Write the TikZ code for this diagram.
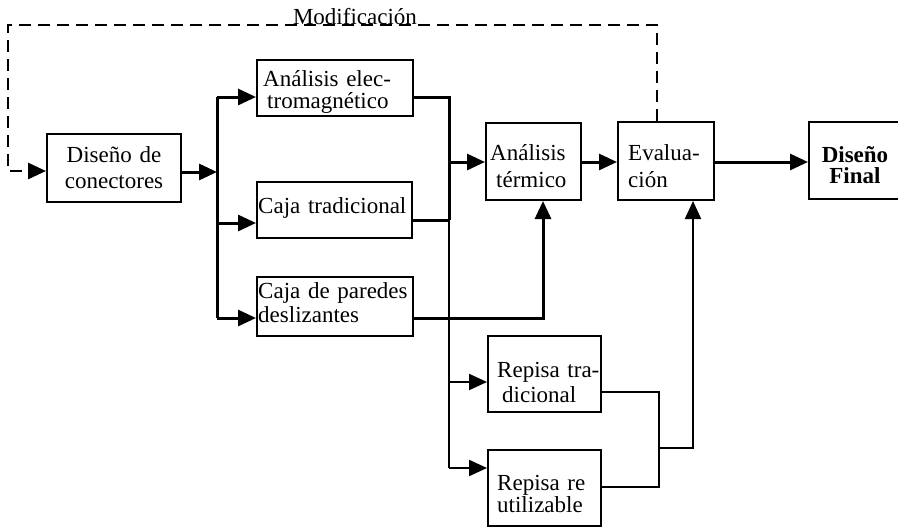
\documentclass[tikz,border=0pt]{standalone}
\usepackage{fontspec}
\setmainfont{Liberation Serif}
\usetikzlibrary{arrows.meta}

\tikzset{
  box/.style={draw, line width=2pt, inner sep=0pt, anchor=center},
  txt/.style={inner sep=0pt, anchor=base west, text width=160pt, align=left},
  ctxt/.style={inner sep=0pt, anchor=base, text width=120pt, align=center},
  conn/.style={line width=3pt, -{Triangle[length=18pt,width=16pt]}},
  wire/.style={line width=3pt},
  thinconn/.style={line width=2.2pt, -{Triangle[length=18pt,width=16pt]}},
  thinwire/.style={line width=2.2pt},
  feedback/.style={line width=2.8pt, dash pattern=on 12pt off 7pt,
                   -{Triangle[length=18pt,width=16pt]}},
}
\newcommand{\fs}[1]{\fontsize{23}{#1}\selectfont}

\begin{document}
\begin{tikzpicture}[x=1pt,y=-1pt]
\useasboundingbox (0,0) rectangle (898,528);
\clip (0,0) rectangle (898,528);

% process blocks (frames)
\node[box, minimum width=134pt, minimum height=68pt] (dis)  at (114,168) {};
\node[box, minimum width=156pt, minimum height=56pt] (ael)  at (335,88) {};
\node[box, minimum width=155pt, minimum height=56pt] (ctr)  at (334.5,210) {};
\node[box, minimum width=156pt, minimum height=59pt] (cpd)  at (335,306.5) {};
\node[box, minimum width=95pt,  minimum height=77pt] (ater) at (533.5,161.5) {};
\node[box, minimum width=96pt,  minimum height=78pt] (eva)  at (666,161) {};
\node[box, minimum width=92pt,  minimum height=77pt] (dfin) at (855,160.5) {};
\node[box, minimum width=113pt, minimum height=76pt] (rtr)  at (544.5,374) {};
\node[box, minimum width=113pt, minimum height=76pt] (rre)  at (544.5,488) {};

% block texts, placed on their first baselines
\node[ctxt, font=\fs{26}] (dis-t) at (114,162) {Diseño de\\conectores};
\node[txt, font=\fs{21.5}] (ael-t) at (263,86.5) {Análisis elec-\\\hspace*{4pt}tromagnético};
\node[txt, font=\fs{24}] (ctr-t) at (258,213) {Caja tradicional};
\node[txt, font=\fs{24}] (cpd-t) at (258,298) {Caja de paredes\\deslizantes};
\node[txt, font=\fs{27}] (ater-t) at (490,160) {Análisis\\\hspace*{6pt}térmico};
\node[txt, font=\fs{27}] (eva-t) at (628,160) {Evalua-\\ción};
\node[ctxt, font=\fs{21}\bfseries] (dfin-t) at (855,162) {Diseño\\Final};
\node[txt, font=\fs{25}] (rtr-t) at (497,377) {Repisa tra-\\\hspace*{5pt}dicional};
\node[txt, font=\fs{22}] (rre-t) at (497,490) {Repisa re\\utilizable};

% junction points
\coordinate (j0) at (217,172);
\coordinate (j1) at (217,97);
\coordinate (j2) at (217,223);
\coordinate (j3) at (217,318);
\coordinate (k1) at (449,97);
\coordinate (k2) at (449,220);
\coordinate (k3) at (449,162);
\coordinate (k4) at (449,382);
\coordinate (k5) at (449,468);
\coordinate (p)  at (543,318);
\coordinate (m)  at (600,162);
\coordinate (r1) at (659,392);
\coordinate (r2) at (659,487);
\coordinate (r3) at (659,448);
\coordinate (r4) at (693,448);
\coordinate (d1) at (657,25);
\coordinate (d2) at (8,25);
\coordinate (d3) at (8,171);

% first distribution bus
\draw[conn] (j0 -| dis.east) -- (j0);
\draw[wire] (j1) -- (j3);
\draw[conn] (j1) -- (j1 -| ael.west);
\draw[conn] (j2) -- (j2 -| ctr.west);
\draw[conn] (j3) -- (j3 -| cpd.west);

% second bus
\draw[wire] (k1 -| ael.east) -- (k1) -- (k2);
\draw[wire] (k2 -| ctr.east) -- (k2);
\draw[thinwire] (k2) -- (k5);
\draw[conn] (k3) -- (k3 -| ater.west);
\draw[thinconn] (k4) -- (k4 -| rtr.west);
\draw[thinconn] (k5) -- (k5 -| rre.west);

% sliding-wall box into thermal analysis
\draw[conn] (p -| cpd.east) -- (p) -- (p |- ater.south);

% main chain
\draw[conn] (m -| ater.east) -- (m -| eva.west);
\draw[conn] (m -| eva.east) -- (m -| dfin.west);

% shelves into evaluation
\draw[thinwire] (r1 -| rtr.east) -- (r1) -- (r2) -- (r2 -| rre.east);
\draw[thinconn] (r3) -- (r4) -- (r4 |- eva.south);

% feedback loop
\draw[feedback] (d1 |- eva.north) -- (d1) -- (d2) -- (d3) -- (d3 -| dis.west);
\node[anchor=base, font=\fs{26}, inner sep=0pt] (mod) at (355,24) {Modificación};
\end{tikzpicture}
\end{document}
